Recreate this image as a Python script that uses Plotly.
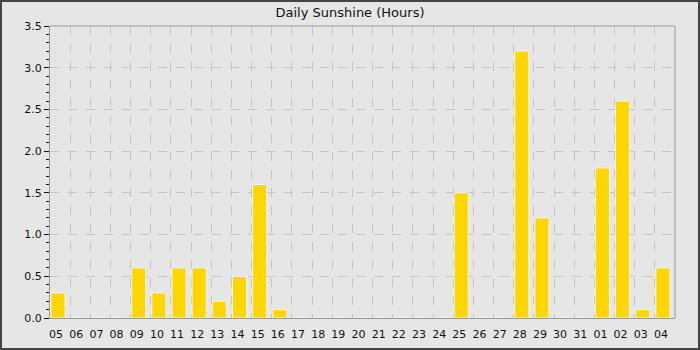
import plotly.graph_objects as go

days = ["05","06","07","08","09","10","11","12","13","14","15","16","17","18","19","20",
        "21","22","23","24","25","26","27","28","29","30","31","01","02","03","04"]
sunshine = [0.3,0,0,0,0.6,0.3,0.6,0.6,0.2,0.5,1.6,0.1,0,0,0,0,
            0,0,0,0,1.5,0,0,3.2,1.2,0,0,1.8,2.6,0.1,0.6]
y_ticks = [0,0.5,1.0,1.5,2.0,2.5,3.0,3.5]
y_ticklabels = ["0.0","0.5","1.0","1.5","2.0","2.5","3.0","3.5"]

W, H = 700, 350
L, R, T, B = 50, 25, 26, 32
pw, ph = W - L - R, H - T - B

fig = go.Figure(go.Bar(
    x=days, y=sunshine,
    marker=dict(color="#ffd700", line=dict(color="#e8f4ff", width=1)),
    width=0.7, offset=-0.45,
))

fig.update_layout(
    width=W, height=H,
    margin=dict(l=L, r=R, t=T, b=B, autoexpand=False),
    paper_bgcolor="#e6e6e6", plot_bgcolor="#e6e6e6",
    font=dict(family="DejaVu Sans", size=11, color="#111"),
    title=dict(text="Daily Sunshine (Hours)", x=0.5, xanchor="center",
               y=1 - 12/H, yanchor="middle", font=dict(size=13, color="#111")),
    showlegend=False,
    shapes=[
        dict(type="rect", xref="paper", yref="paper",
             x0=-L/pw, x1=1 + R/pw, y0=-B/ph, y1=1 + T/ph,
             line=dict(color="#444444", width=4), fillcolor="rgba(0,0,0,0)", layer="above"),
        dict(type="line", xref="paper", yref="paper", x0=0, x1=1, y0=1, y1=1,
             line=dict(color="#999999", width=1)),
        dict(type="line", xref="paper", yref="paper", x0=1, x1=1, y0=0, y1=1,
             line=dict(color="#999999", width=1)),
    ],
)

fig.update_xaxes(
    type="category", tickson="boundaries", showgrid=True,
    gridcolor="#c4c4c4", griddash="dash", gridwidth=1,
    showline=True, linecolor="#999999", linewidth=1,
    ticks="", tickangle=0, ticklabelshift=-4, ticklabelstandoff=6,
    tickfont=dict(size=11, color="#111"),
    zeroline=False, automargin=False,
)
fig.update_yaxes(
    range=[0, 3.5], tickvals=y_ticks, ticktext=y_ticklabels,
    showgrid=True, gridcolor="#c4c4c4", griddash="dash", gridwidth=1,
    showline=True, linecolor="#999999", linewidth=1,
    ticks="outside", ticklen=5, tickcolor="#111", tickwidth=1,
    minor=dict(dtick=0.1, ticks="outside", ticklen=3, tickcolor="#111", showgrid=False),
    zeroline=False, tickfont=dict(size=11, color="#111"), automargin=False,
)

fig.write_html("out.html")
